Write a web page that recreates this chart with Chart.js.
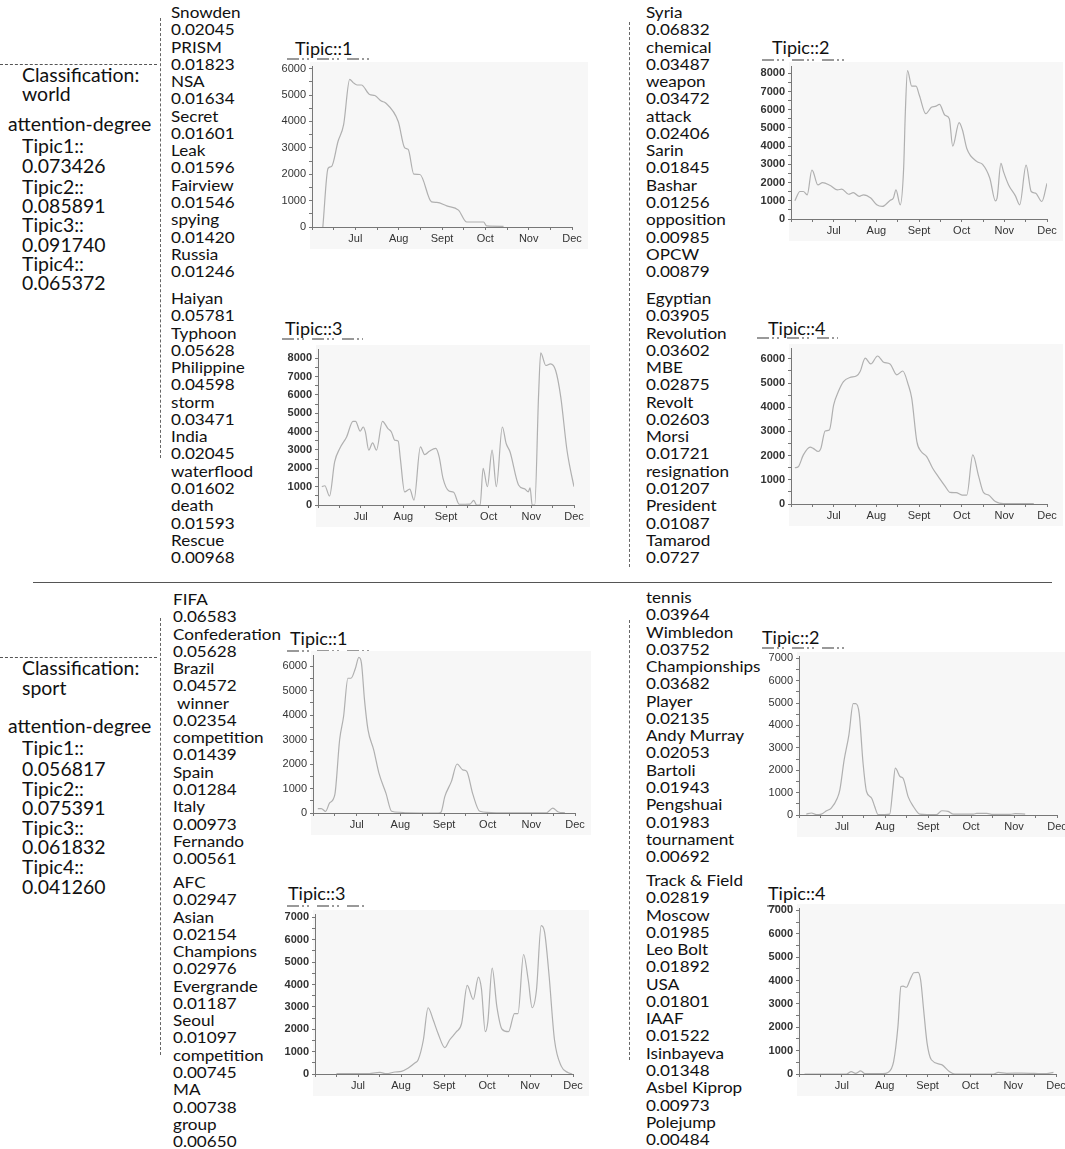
<!DOCTYPE html>
<html><head><meta charset="utf-8">
<script src="https://cdn.jsdelivr.net/npm/chart.js@4.4.0/dist/chart.umd.min.js"></script>
<style>
html,body{margin:0;padding:0;width:1065px;height:1149px;overflow:hidden;background:#fff;}
#root{position:relative;width:1065px;height:1149px;overflow:hidden;}
.t{position:absolute;white-space:pre;font-family:Lato,'Open Sans',sans-serif;color:#111;line-height:20px;height:20px;transform-origin:0 50%;}
.w{font-size:15px;transform:scaleX(1.14);}
.big{font-size:18.5px;transform:scaleX(1.05);}
.title{font-size:18px;}
.hd{position:absolute;height:0;border-top:1px dashed #555;}
.vd{position:absolute;width:0;border-left:1px dashed #666;}
.sep{position:absolute;height:1px;background:#555;}
.ul{position:absolute;height:2px;background:repeating-linear-gradient(90deg,#999 0 12px,transparent 12px 15px,#999 15px 17px,transparent 17px 20px,#999 20px 22px,transparent 22px 30px);}
canvas{position:absolute;}
</style></head><body><div id="root"></div>
<script>
// ---------- DATA ----------
const monthLabels=['Jul','Aug','Sept','Oct','Nov','Dec']; // x = months since June 1

// world Tipic::1
const w1X=[0.25,0.37,0.45,0.60,0.73,0.87,0.95,1.04,1.14,1.33,1.45,1.60,1.70,1.99,2.14,2.22,2.35,2.49,2.76,2.88,3.11,3.38,3.57,3.96,4.03,4.42];
const w1Y=[0,2220,2290,3240,3880,5590,5470,5380,5380,5020,4980,4770,4700,4000,3000,2940,2000,1990,950,930,800,640,190,190,40,25];
// world Tipic::2
const w2X=[0.09,0.21,0.29,0.38,0.49,0.52,0.63,0.74,0.92,1.09,1.19,1.35,1.46,1.60,1.70,1.87,2.01,2.14,2.32,2.40,2.46,2.56,2.64,2.68,2.73,2.83,2.93,3.01,3.16,3.30,3.38,3.48,3.61,3.71,3.79,3.94,4.02,4.12,4.36,4.49,4.66,4.79,4.83,4.92,4.98,5.10,5.26,5.36,5.51,5.63,5.73,5.88,6.0];
const w2Y=[1000,1510,1510,1330,2690,2600,1870,2000,1840,1600,1640,1360,1450,1240,1330,1150,780,690,1020,1150,1600,780,2780,5870,8150,7290,7290,6780,5780,6150,6180,6290,5690,5510,4000,5290,4870,3870,3150,3000,2240,1000,1150,3050,2600,1870,1270,780,2960,1510,1420,960,1960];
// world Tipic::3
const w3X=[0.09,0.16,0.27,0.39,0.51,0.67,0.82,0.88,0.99,1.06,1.11,1.19,1.28,1.37,1.51,1.64,1.72,1.80,1.88,1.93,2.03,2.15,2.25,2.40,2.50,2.61,2.76,2.84,2.93,3.07,3.18,3.31,3.56,3.65,3.72,3.80,3.87,3.97,4.08,4.18,4.32,4.41,4.50,4.70,4.85,4.93,4.97,5.02,5.08,5.17,5.22,5.34,5.45,5.57,5.69,5.83,5.91,6.0];
const w3Y=[1000,1050,490,2350,3080,3710,4560,4560,4020,4250,3980,2990,3390,2990,4560,4160,3980,3530,3480,2530,720,870,270,3170,2750,2930,3080,2620,1450,760,690,40,50,250,0,0,2000,1000,2990,1000,4250,3350,2900,1090,870,720,940,0,0,6000,8290,7600,7690,7330,5880,3080,1990,1000];
// world Tipic::4
const w4X=[0.09,0.17,0.29,0.45,0.52,0.64,0.70,0.80,0.90,1.00,1.11,1.23,1.38,1.54,1.62,1.74,1.87,2.03,2.17,2.32,2.48,2.62,2.75,2.83,2.95,3.05,3.18,3.32,3.48,3.61,3.73,3.87,4.01,4.12,4.26,4.40,4.51,4.63,4.79,4.98,5.69];
const w4Y=[1500,1540,2030,2350,2300,2170,2300,3020,3060,4100,4650,5060,5230,5300,5480,6030,5790,6120,5860,5790,5340,5500,4920,4370,2580,2170,1960,1480,1060,740,480,470,370,370,2030,1130,480,370,100,15,15];
// sport Tipic::1
const s1X=[0.11,0.19,0.29,0.38,0.50,0.61,0.70,0.80,0.87,0.97,1.05,1.11,1.18,1.26,1.39,1.51,1.67,1.80,1.99,2.14,2.87,2.93,3.02,3.17,3.30,3.43,3.52,3.66,3.82,4.20,5.35,5.49,5.62,5.77];
const s1Y=[180,180,70,410,750,2990,3940,5500,5500,5900,6350,6110,4610,3390,2580,1630,810,70,30,10,0,30,680,1290,2000,1760,1700,770,70,10,10,200,40,10];
// sport Tipic::2
const s2X=[0.17,0.29,0.40,0.52,0.64,0.75,0.89,0.95,1.05,1.16,1.26,1.32,1.40,1.49,1.57,1.69,1.76,1.84,2.11,2.18,2.24,2.35,2.42,2.54,2.66,2.81,3.20,3.32,3.47,3.59,4.06,4.13,4.37,4.48,4.91,5.03,5.26];
const s2Y=[40,90,15,40,190,310,750,1120,2460,3570,4970,4970,4530,2310,1050,750,380,15,40,1120,2090,1720,1640,810,380,40,15,190,160,40,40,70,70,30,30,60,40];
// sport Tipic::3
const s3X=[0.50,1.20,1.51,1.66,1.86,2.01,2.17,2.32,2.40,2.52,2.63,2.75,2.86,3.02,3.13,3.29,3.41,3.54,3.68,3.80,3.87,3.96,4.02,4.12,4.23,4.35,4.50,4.64,4.72,4.85,4.96,5.05,5.15,5.26,5.34,5.44,5.57,5.73,5.88,5.98];
const s3Y=[15,15,70,15,90,120,270,490,640,1520,2960,2410,1820,1180,1520,1890,2260,3960,3330,4330,3820,1890,2340,4730,3000,2000,1890,2700,2700,5340,4190,2960,3740,6630,6330,4480,1520,340,70,0];
// sport Tipic::4
const s4X=[0.13,0.37,1.11,1.22,1.32,1.44,1.54,1.96,2.08,2.21,2.31,2.38,2.43,2.51,2.59,2.68,2.78,2.84,2.91,2.99,3.09,3.33,3.51,3.64,4.54,4.65,4.85,5.20,5.78,5.94];
const s4Y=[0,0,0,100,30,130,15,15,70,540,2030,3740,3760,3710,4020,4330,4350,4020,2740,1320,610,400,110,0,0,70,30,40,15,70];

// highest labelled tick and top of each y axis
const yTopTick={w1:6000,w2:8000,w3:8000,w4:6000,s1:6000,s2:7000,s3:7000,s4:7000};
const yAxisMax={w1:6100,w2:8400,w3:8500,w4:6450,s1:6450,s2:7100,s3:7150,s4:7100};

// topic words
const worldT1=['Snowden','0.02045','PRISM','0.01823','NSA','0.01634','Secret','0.01601','Leak','0.01596','Fairview','0.01546','spying','0.01420','Russia','0.01246'];
const worldT3=['Haiyan','0.05781','Typhoon','0.05628','Philippine','0.04598','storm','0.03471','India','0.02045','waterflood','0.01602','death','0.01593','Rescue','0.00968'];
const worldT2=['Syria','0.06832','chemical','0.03487','weapon','0.03472','attack','0.02406','Sarin','0.01845','Bashar','0.01256','opposition','0.00985','OPCW','0.00879'];
const worldT4=['Egyptian','0.03905','Revolution','0.03602','MBE','0.02875','Revolt','0.02603','Morsi','0.01721','resignation','0.01207','President','0.01087','Tamarod','0.0727'];
const sportT1=['FIFA','0.06583','Confederation','0.05628','Brazil','0.04572',' winner','0.02354','competition','0.01439','Spain','0.01284','Italy','0.00973','Fernando','0.00561'];
const sportT3=['AFC','0.02947','Asian','0.02154','Champions','0.02976','Evergrande','0.01187','Seoul','0.01097','competition','0.00745','MA','0.00738','group','0.00650'];
const sportT2=['tennis','0.03964','Wimbledon','0.03752','Championships','0.03682','Player','0.02135','Andy Murray','0.02053','Bartoli','0.01943','Pengshuai','0.01983','tournament','0.00692'];
const sportT4=['Track & Field','0.02819','Moscow','0.01985','Leo Bolt','0.01892','USA','0.01801','IAAF','0.01522','Isinbayeva','0.01348','Asbel Kiprop','0.00973','Polejump','0.00484'];

const worldInfo=['Classification:','world','attention-degree','Tipic1::','0.073426','Tipic2::','0.085891','Tipic3::','0.091740','Tipic4::','0.065372'];
const sportInfo=['Classification:','sport','attention-degree','Tipic1::','0.056817','Tipic2::','0.075391','Tipic3::','0.061832','Tipic4::','0.041260'];

// ---------- LAYOUT ----------
const root=document.getElementById('root');
function el(cls,css,text){const d=document.createElement('div');d.className=cls;Object.assign(d.style,css);if(text!==undefined)d.textContent=text;root.appendChild(d);return d;}
function textAt(cls,x,cy,s){el('t '+cls,{left:x+'px',top:(cy-10)+'px'},s);}
function column(words,x,y0){words.forEach((w,i)=>textAt('w',x,y0+i*17.27,w));}
column(worldT1,171,12);column(worldT3,171,298);
column(worldT2,646,12);column(worldT4,646,298);
column(sportT1,173,599);column(sportT3,173,882);
column(sportT2,646,597);column(sportT4,646,880);

function infoBlock(lines,ys){lines.forEach((s,i)=>textAt('big',s==='attention-degree'?8:22,ys[i],s));}
infoBlock(worldInfo,[75,94,124,146,166,187,206,225,245,264,283]);
infoBlock(sportInfo,[668,688,726,748,769,789,808,828,847,867,887]);

el('hd',{left:'0px',top:'64px',width:'157px'});
el('hd',{left:'0px',top:'657px',width:'157px'});
el('vd',{left:'160px',top:'18px',height:'440px'});
el('vd',{left:'629px',top:'22px',height:'545px'});
el('vd',{left:'160px',top:'618px',height:'437px'});
el('vd',{left:'629px',top:'620px',height:'440px'});
el('sep',{left:'33px',top:'582px',width:'1019px'});

const titles=[
 ['Tipic::1',295,48,287,58,83],['Tipic::2',772,47,762,59,83],
 ['Tipic::3',285,328,282,338,81],['Tipic::4',768,328,757,337,81],
 ['Tipic::1',290,638,287,650,83],['Tipic::2',762,637,762,647,83],
 ['Tipic::3',288,893,287,905,78],['Tipic::4',768,893,767,905,76]];
titles.forEach(t=>{textAt('title',t[1],t[2],t[0]);el('ul',{left:t[3]+'px',top:t[4]+'px',width:t[5]+'px'});});

// ---------- CHARTS ----------
const bgPlugin={id:'bg',beforeDraw(c){const a=c.chartArea,ctx=c.ctx;ctx.save();ctx.fillStyle='#f7f7f7';ctx.fillRect(a.left-2,a.top-4,c.width-a.left+2,c.height-a.top+4);ctx.restore();}};
const YW=46,XH=22,PT=10,PR=16;
// g: l = y-axis x, r = Dec x, tt = pixel y of top labelled tick, b = x-axis y
function makeChart(g,xs,ys,topTick,axisMax,bold){
  const top=g.b-(g.b-g.tt)*axisMax/topTick;
  const cv=document.createElement('canvas');
  const w=Math.round((g.r-g.l)+YW+PR),h=Math.round((g.b-top)+PT+XH);
  cv.width=w;cv.height=h;cv.style.left=(g.l-YW)+'px';cv.style.top=Math.round(top-PT)+'px';cv.style.width=w+'px';cv.style.height=h+'px';
  root.appendChild(cv);
  const pts=xs.map((x,i)=>({x:x,y:ys[i]}));
  const fam="'Liberation Sans', Arial, sans-serif";
  new Chart(cv,{type:'line',data:{datasets:[{data:pts,borderColor:'#b0b0b0',borderWidth:1.2,pointRadius:0,cubicInterpolationMode:'monotone',fill:false}]},
    options:{responsive:false,animation:false,devicePixelRatio:1,
      layout:{padding:{top:PT,right:PR,left:0,bottom:0}},
      plugins:{legend:{display:false},tooltip:{enabled:false}},
      scales:{
        x:{type:'linear',min:0,max:6,afterFit(s){s.height=XH;},
          afterBuildTicks(s){const a=[];for(let v=0;v<=6;v+=0.5)a.push({value:v});s.ticks=a;},
          ticks:{autoSkip:false,maxRotation:0,padding:2,color:'#333',font:{family:fam,size:11},
            callback:v=>(Number.isInteger(v)&&v>=1)?monthLabels[v-1]:''},
          grid:{drawOnChartArea:false,drawTicks:true,tickLength:3,color:'#777'},border:{color:'#777'}},
        y:{min:0,max:axisMax,afterFit(s){s.width=YW;},
          afterBuildTicks(s){const a=[];for(let v=0;v<=topTick;v+=500)a.push({value:v});s.ticks=a;},
          ticks:{autoSkip:false,padding:3,color:'#333',font:{family:fam,size:11,weight:bold?'bold':'normal'},callback:v=>(v%1000===0)?String(v):''},
          grid:{drawOnChartArea:false,drawTicks:true,tickLength:3,color:'#777'},border:{color:'#777'}}
      }},plugins:[bgPlugin]});
}
makeChart({l:312,r:572,tt:69,b:227},w1X,w1Y,yTopTick.w1,yAxisMax.w1,false);
makeChart({l:791,r:1047,tt:73,b:219},w2X,w2Y,yTopTick.w2,yAxisMax.w2,true);
makeChart({l:318,r:574,tt:358,b:505},w3X,w3Y,yTopTick.w3,yAxisMax.w3,true);
makeChart({l:791,r:1047,tt:359,b:504},w4X,w4Y,yTopTick.w4,yAxisMax.w4,true);
makeChart({l:313,r:575,tt:666,b:813},s1X,s1Y,yTopTick.s1,yAxisMax.s1,false);
makeChart({l:799,r:1057,tt:658,b:815},s2X,s2Y,yTopTick.s2,yAxisMax.s2,false);
makeChart({l:315,r:573,tt:917,b:1074},s3X,s3Y,yTopTick.s3,yAxisMax.s3,true);
makeChart({l:799,r:1056,tt:910,b:1074},s4X,s4Y,yTopTick.s4,yAxisMax.s4,true);
</script></body></html>
